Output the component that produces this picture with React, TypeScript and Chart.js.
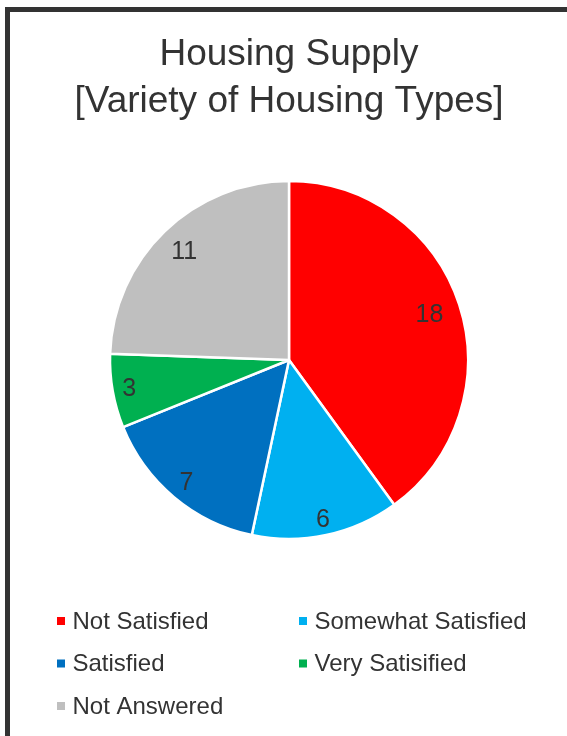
import React, { useEffect, useRef } from "react";
import { Chart, registerables } from "chart.js";

Chart.register(...registerables);

const titleLines = ["Housing Supply", "[Variety of Housing Types]"];
const categories = ["Not Satisfied", "Somewhat Satisfied", "Satisfied", "Very Satisified", "Not Answered"];
const values = [18, 6, 7, 3, 11];
const colors = ["#FF0000", "#00B0F0", "#0070C0", "#00B050", "#BFBFBF"];

const FONT = "'Liberation Sans', Arial, sans-serif";
const TEXT = "#333333";

const dataLabelPlugin = {
  id: "dataLabels",
  afterDatasetsDraw(chart: any) {
    const ctx = chart.ctx;
    const meta = chart.getDatasetMeta(0);
    const ds = chart.data.datasets[0];
    const fs = 25;
    ctx.save();
    ctx.font = `${fs}px ${FONT}`;
    ctx.fillStyle = TEXT;
    ctx.textAlign = "center";
    ctx.textBaseline = "middle";
    meta.data.forEach((arc: any, i: number) => {
      const p = arc.getProps(["x", "y", "startAngle", "endAngle", "outerRadius"], true);
      const mid = (p.startAngle + p.endAngle) / 2;
      const txt = String(ds.data[i]);
      const tw = ctx.measureText(txt).width;
      const c = Math.cos(mid);
      const s = Math.sin(mid);
      const r = p.outerRadius - (Math.abs(c) * tw + Math.abs(s) * fs / 2) - 1;
      ctx.fillText(txt, p.x + c * r, p.y + s * r + 1);
    });
    ctx.restore();
  },
};

const gridLegendPlugin = {
  id: "gridLegend",
  afterDraw(chart: any) {
    const ctx = chart.ctx;
    const labels: string[] = chart.data.labels;
    const bg: string[] = chart.data.datasets[0].backgroundColor;
    const colX = [57, 299];
    const rowY0 = 621;
    const rowGap = 42.5;
    const box = 8;
    ctx.save();
    ctx.font = `24px ${FONT}`;
    ctx.textAlign = "left";
    ctx.textBaseline = "middle";
    labels.forEach((lab, i) => {
      const x = colX[i % 2];
      const y = rowY0 + Math.floor(i / 2) * rowGap;
      ctx.fillStyle = bg[i];
      ctx.fillRect(x, y - box / 2, box, box);
      ctx.fillStyle = TEXT;
      ctx.fillText(lab, x + 15.5, y + 1);
    });
    ctx.restore();
  },
};

export default function App() {
  const ref = useRef<HTMLCanvasElement>(null);
  useEffect(() => {
    if (!ref.current) return;
    const chart = new Chart(ref.current, {
      type: "pie",
      data: {
        labels: categories,
        datasets: [
          {
            data: values,
            backgroundColor: colors,
            borderColor: "#FFFFFF",
            borderWidth: 2.5,
          },
        ],
      },
      options: {
        responsive: false,
        animation: false,
        radius: 179,
        layout: { padding: { top: 0, left: 12, right: 1, bottom: 151 } },
        plugins: {
          legend: { display: false },
          tooltip: { enabled: false },
          title: {
            display: true,
            text: titleLines,
            color: TEXT,
            font: { family: FONT, size: 37, weight: "normal", lineHeight: 1.27 },
            padding: { top: 31, bottom: 10 },
          },
        },
      } as any,
      plugins: [dataLabelPlugin, gridLegendPlugin],
    });
    return () => chart.destroy();
  }, []);
  return (
    <>
      <div
        style={{
          position: "fixed",
          left: 5,
          top: 7,
          width: 620,
          height: 800,
          border: "5px solid #333333",
          boxSizing: "border-box",
          background: "#FFFFFF",
        }}
      />
      <canvas
        ref={ref}
        width={567}
        height={736}
        style={{ position: "fixed", left: 0, top: 0, width: 567, height: 736 }}
      />
    </>
  );
}
